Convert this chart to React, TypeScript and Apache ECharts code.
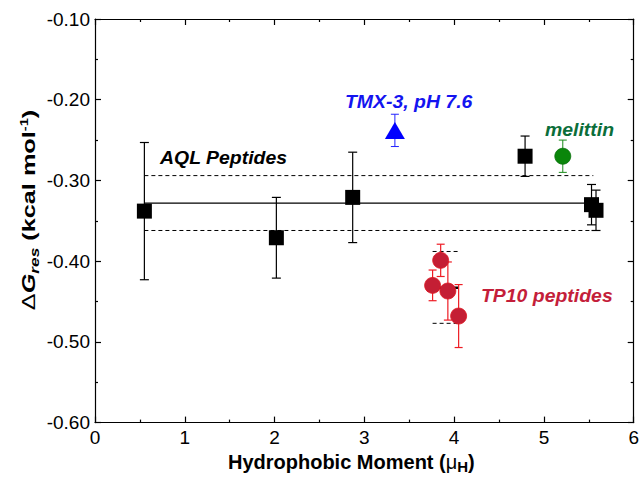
import React, { useEffect, useRef } from "react";
import * as echarts from "echarts";

// AQL peptides (black squares)
const aqlX = [0.55, 2.02, 2.87, 4.79, 5.53, 5.58];
const aqlY = [-0.338, -0.371, -0.321, -0.27, -0.33, -0.337];
const aqlErr = [0.085, 0.05, 0.056, 0.025, 0.025, 0.025];
// AQL mean and spread
const aqlLineX = [0.55, 5.55];
const aqlMean = -0.328;
const aqlUpper = -0.294;
const aqlLower = -0.362;

// TMX-3 (blue triangle)
const tmxX = [3.34];
const tmxY = [-0.238];
const tmxErr = [0.02];

// melittin (green circle)
const melX = [5.21];
const melY = [-0.27];
const melErr = [0.02];

// TP10 peptides (red circles)
const tpX = [3.85, 3.76, 3.93, 4.05];
const tpY = [-0.399, -0.43, -0.437, -0.468];
const tpErr = [0.02, 0.019, 0.036, 0.039];
const tpLineX = [3.76, 4.05];
const tpMean = -0.433;
const tpUpper = -0.388;
const tpLower = -0.477;

// axis ticks
const xTicks = [0, 1, 2, 3, 4, 5, 6];
const yTicks = [-0.6, -0.5, -0.4, -0.3, -0.2, -0.1];

const FONT = "'Liberation Sans', Arial, Helvetica, sans-serif";

function errSeries(xs: number[], ys: number[], es: number[], color: string, cap: number, width: number) {
  return {
    type: "custom",
    data: xs.map((x, i) => [x, ys[i] - es[i], ys[i] + es[i]]),
    encode: { x: 0, y: [1, 2] },
    z: 3,
    silent: true,
    renderItem: (params: any, api: any) => {
      const x = api.value(0);
      const lo = api.coord([x, api.value(1)]);
      const hi = api.coord([x, api.value(2)]);
      const h = cap / 2;
      const st = { stroke: color, lineWidth: width };
      return {
        type: "group",
        children: [
          { type: "line", shape: { x1: lo[0], y1: lo[1], x2: hi[0], y2: hi[1] }, style: st },
          { type: "line", shape: { x1: lo[0] - h, y1: lo[1], x2: lo[0] + h, y2: lo[1] }, style: st },
          { type: "line", shape: { x1: hi[0] - h, y1: hi[1], x2: hi[0] + h, y2: hi[1] }, style: st },
        ],
      };
    },
  };
}

function hLine(xs: number[], y: number, type: string, width: number) {
  return {
    type: "line",
    data: xs.map((x) => [x, y]),
    showSymbol: false,
    symbol: "none",
    silent: true,
    z: 2,
    lineStyle: { color: "#000", width, type: type === "dashed" ? [4, 3] : "solid" },
  };
}

function label(text: string, x: number, y: number, color: string) {
  return {
    type: "text",
    x,
    y,
    scaleX: 1.08,
    style: { text, font: `italic bold 18px ${FONT}`, fill: color, verticalAlign: "middle" },
    z: 10,
  };
}

export default function App() {
  const ref = useRef<HTMLDivElement>(null);
  useEffect(() => {
    if (!ref.current) return;
    const chart = echarts.init(ref.current, undefined, { renderer: "svg" });
    const axisCommon = {
      axisLine: { show: true, onZero: false, lineStyle: { color: "#000", width: 1.2 } },
      axisTick: { show: true, inside: true, length: 6, lineStyle: { color: "#000", width: 1.2 } },
      minorTick: { show: true, splitNumber: 2, length: 3, lineStyle: { color: "#000", width: 1.2 } },
      splitLine: { show: false },
    };
    chart.setOption({
      animation: false,
      backgroundColor: "#fff",
      grid: { left: 95, right: 8, top: 19, bottom: 52 },
      xAxis: [
        {
          type: "value",
          min: xTicks[0],
          max: xTicks[xTicks.length - 1],
          interval: 1,
          position: "bottom",
          ...axisCommon,
          axisLabel: { color: "#000", fontSize: 19, fontFamily: FONT, margin: 5 },
          name: "{n|Hydrophobic Moment (}{mu|μ}{sub|H}{n|)}",
          nameLocation: "middle",
          nameGap: 26,
          nameTextStyle: {
            padding: [0, 26, 0, 0],
            rich: {
              n: { fontSize: 20, fontWeight: "bold", fontFamily: FONT, color: "#000" },
              mu: { fontSize: 20, fontFamily: FONT, color: "#000" },
              sub: { fontSize: 15, fontWeight: "bold", fontFamily: FONT, color: "#000", padding: [10, 0, 0, 0] },
            },
          },
        },
        {
          type: "value",
          min: xTicks[0],
          max: xTicks[xTicks.length - 1],
          interval: 1,
          position: "top",
          ...axisCommon,
          axisLabel: { show: false },
        },
      ],
      yAxis: [
        {
          type: "value",
          min: yTicks[0],
          max: yTicks[yTicks.length - 1],
          interval: 0.1,
          position: "left",
          ...axisCommon,
          axisLabel: {
            color: "#000",
            fontSize: 19,
            fontFamily: FONT,
            margin: 5,
            formatter: (v: number) => v.toFixed(2),
          },
        },
        {
          type: "value",
          min: yTicks[0],
          max: yTicks[yTicks.length - 1],
          interval: 0.1,
          position: "right",
          ...axisCommon,
          axisLabel: { show: false },
        },
      ],
      series: [
        hLine(aqlLineX, aqlMean, "solid", 1.3),
        hLine(aqlLineX, aqlUpper, "dashed", 1),
        hLine(aqlLineX, aqlLower, "dashed", 1),
        hLine(tpLineX, tpMean, "solid", 2.5),
        hLine(tpLineX, tpUpper, "dashed", 1),
        hLine(tpLineX, tpLower, "dashed", 1),
        errSeries(aqlX, aqlY, aqlErr, "#000", 9, 1.2),
        errSeries(tmxX, tmxY, tmxErr, "#2222ff", 8, 1),
        errSeries(melX, melY, melErr, "#1a8a1a", 8, 1),
        errSeries(tpX, tpY, tpErr, "#ee1c24", 8, 1.2),
        {
          type: "scatter",
          data: aqlX.map((x, i) => [x, aqlY[i]]),
          symbol: "rect",
          symbolSize: 15,
          itemStyle: { color: "#000", opacity: 1 },
          z: 4,
        },
        {
          type: "scatter",
          data: tmxX.map((x, i) => [x, tmxY[i]]),
          symbol: "triangle",
          symbolSize: [20, 17],
          itemStyle: { color: "#0000ff", opacity: 1 },
          z: 4,
        },
        {
          type: "scatter",
          data: melX.map((x, i) => [x, melY[i]]),
          symbol: "circle",
          symbolSize: 16,
          itemStyle: { color: "#0a860a", borderColor: "#08700a", borderWidth: 0.8, opacity: 1 },
          z: 4,
        },
        {
          type: "scatter",
          data: tpX.map((x, i) => [x, tpY[i]]),
          symbol: "circle",
          symbolSize: 16,
          itemStyle: { color: "#c41e34", borderColor: "#e01822", borderWidth: 0.8, opacity: 1 },
          z: 4,
        },
      ],
      graphic: [
        {
          type: "text",
          x: 29,
          y: 210,
          rotation: Math.PI / 2,
          scaleX: 1.33,
          z: 10,
          style: {
            text: "{d|Δ}{g|G}{sub|res}{n| (kcal mol}{sup|-1}{n|)}",
            align: "center",
            verticalAlign: "middle",
            rich: {
              d: { fontSize: 19, fontFamily: FONT, fill: "#000" },
              g: { fontSize: 19, fontWeight: "bold", fontStyle: "italic", fontFamily: FONT, fill: "#000" },
              sub: { fontSize: 13, fontWeight: "bold", fontStyle: "italic", fontFamily: FONT, fill: "#000", padding: [10, 0, 0, 0] },
              n: { fontSize: 19, fontWeight: "bold", fontFamily: FONT, fill: "#000" },
              sup: { fontSize: 11, fontWeight: "bold", fontFamily: FONT, fill: "#000", padding: [0, 0, 10, 0] },
            },
          },
        },
        label("AQL Peptides", 160, 158, "#000"),
        label("TMX-3, pH 7.6", 345, 102, "#1414f0"),
        label("melittin", 545, 130, "#0b6e3a"),
        label("TP10 peptides", 481, 296, "#c41e3a"),
      ],
    });
    return () => chart.dispose();
  }, []);
  return <div ref={ref} style={{ width: 642, height: 479, position: "absolute", left: 0, top: 0 }} />;
}
